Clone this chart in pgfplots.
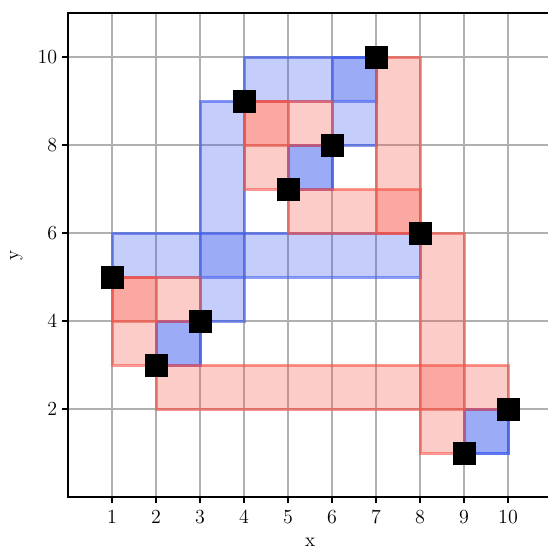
\documentclass[border=0pt]{standalone}
\usepackage{pgfplots}
\pgfplotsset{compat=1.18}
\definecolor{rb}{RGB}{62,92,238}
\definecolor{rr}{RGB}{245,85,72}
\definecolor{gridc}{RGB}{176,176,176}
\newcommand{\rect}[5]{\addplot[fill=#1, fill opacity=0.3, draw=#1, draw opacity=0.6, line width=2.2pt] coordinates {(#2,#4) (#3,#4) (#3,#5) (#2,#5)} -- cycle;}
\begin{document}
\begin{tikzpicture}
\begin{axis}[
  scale only axis, width=348.5pt, height=348.5pt,
  xmin=0, xmax=11, ymin=0, ymax=11,
  xtick={1,...,10}, ytick={2,4,...,10},
  grid=major, grid style={gridc, line width=0.9pt},
  tick align=outside, tick pos=left, major tick length=4.3pt,
  tick style={black, line width=0.9pt},
  axis line style={line width=1pt},
  font=\fontsize{14}{17}\selectfont,
  tick label style={font=\fontsize{14}{17}\selectfont},
  xticklabel style={yshift=-2pt},
  label style={font=\fontsize{14}{17}\selectfont},
  xlabel={x}, ylabel={y},
  xlabel style={inner sep=0pt, yshift=-6.8pt},
  ylabel style={yshift=4pt},
]
% blue rectangles (x1,x2,y1,y2)
\rect{rb}{1}{8}{5}{6}
\rect{rb}{2}{3}{3}{4}
\rect{rb}{2}{3}{3}{4}
\rect{rb}{3}{4}{4}{9}
\rect{rb}{4}{7}{9}{10}
\rect{rb}{6}{7}{8}{10}
\rect{rb}{5}{6}{7}{8}
\rect{rb}{5}{6}{7}{8}
\rect{rb}{9}{10}{1}{2}
\rect{rb}{9}{10}{1}{2}
% red rectangles
\rect{rr}{1}{2}{3}{5}
\rect{rr}{1}{3}{4}{5}
\rect{rr}{4}{5}{7}{9}
\rect{rr}{4}{6}{8}{9}
\rect{rr}{5}{8}{6}{7}
\rect{rr}{7}{8}{6}{10}
\rect{rr}{8}{9}{1}{6}
\rect{rr}{2}{10}{2}{3}
\addplot[only marks, mark=square*, mark size=7.9pt, black] coordinates {
(1,5) (2,3) (3,4) (4,9) (5,7) (6,8) (7,10) (8,6) (9,1) (10,2)};
\coordinate (sw) at (axis cs:0,0);
\coordinate (ne) at (axis cs:10.9,11);
\end{axis}
\pgfresetboundingbox
\useasboundingbox ([xshift=-49pt,yshift=-36.7pt]sw) rectangle ([yshift=9.4pt]ne);
\end{tikzpicture}
\end{document}
